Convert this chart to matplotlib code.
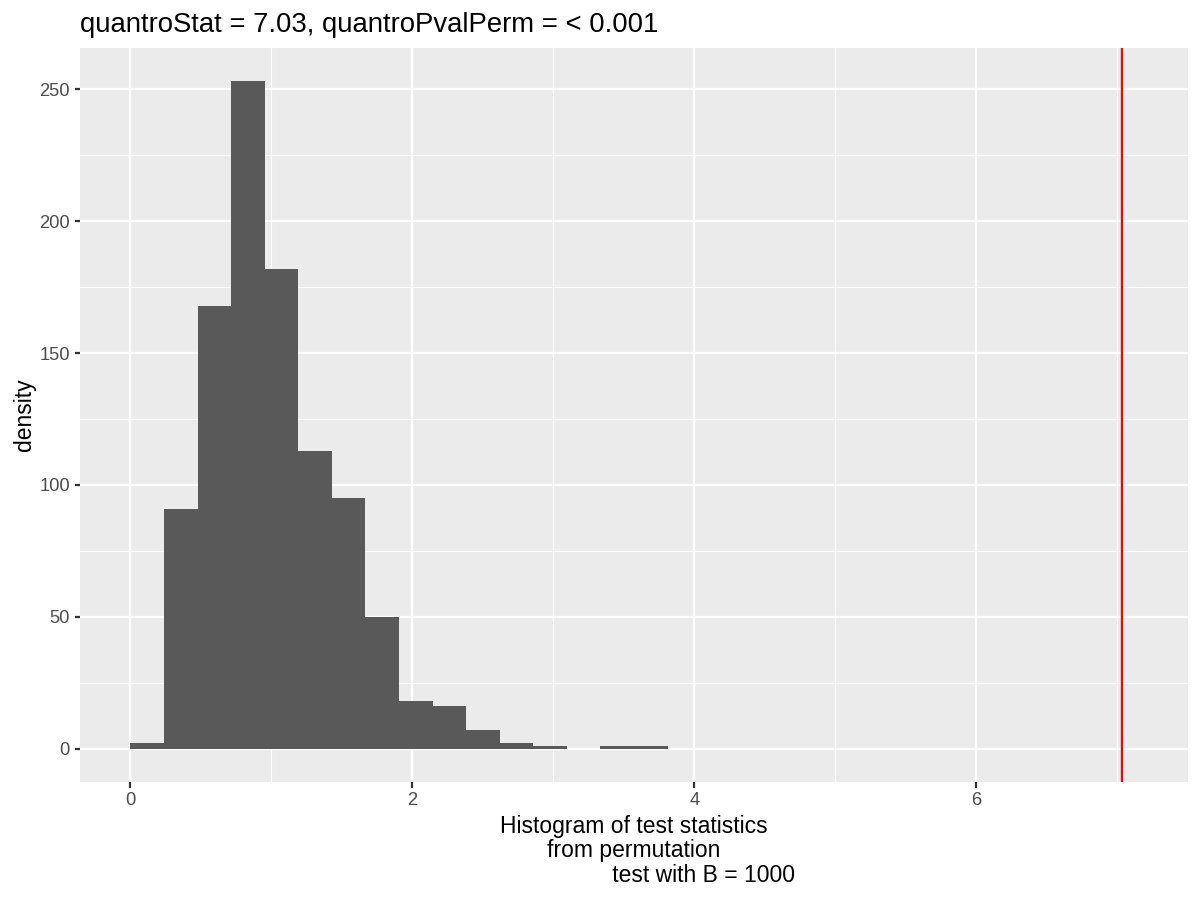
import numpy as np
import matplotlib
matplotlib.use("Agg")
import matplotlib.pyplot as plt
from matplotlib.ticker import MultipleLocator

plt.rcParams['font.family'] = ['Liberation Sans', 'DejaVu Sans']

# histogram of permutation test statistics (counts)
counts = [2, 91, 168, 253, 182, 113, 95, 50, 18, 16, 7, 2, 1, 0, 1, 1]
bin_start = 0.003
bin_width = 0.238
n_bins_total = 30  # ggplot kept 30 bins, the rest are empty
quantro_stat = 7.03
title_text = "quantroStat = 7.03, quantroPvalPerm = < 0.001"
xlabel_text = ("Histogram of test statistics\nfrom permutation\n"
               "                      test with B = 1000")

all_counts = np.array(counts + [0] * (n_bins_total - len(counts)), dtype=float)
edges = bin_start + bin_width * np.arange(n_bins_total + 1)

fig = plt.figure(figsize=(8, 6), dpi=150)
W, H = 1200, 900
ax = fig.add_axes([80 / W, 1 - 782 / H, 1108 / W, 734 / H])
ax.set_facecolor('#EBEBEB')
for s in ax.spines.values():
    s.set_visible(False)

ax.bar(edges[:-1], all_counts, width=bin_width, align='edge',
       color='#595959', linewidth=0, zorder=3)
ax.axvline(quantro_stat, color='red', lw=1.07, zorder=4)

# ggplot-like 5% expansion
xmin, xmax = edges[0], edges[-1]
dx = (xmax - xmin) * 0.05
ax.set_xlim(xmin - dx, xmax + dx)
ymax = all_counts.max()
ax.set_ylim(-0.05 * ymax, ymax * 1.05)

ax.xaxis.set_major_locator(MultipleLocator(2))
ax.xaxis.set_minor_locator(MultipleLocator(1))
ax.yaxis.set_major_locator(MultipleLocator(50))
ax.yaxis.set_minor_locator(MultipleLocator(25))
ax.grid(which='major', color='white', lw=1.07, zorder=1)
ax.grid(which='minor', color='white', lw=0.53, zorder=1)
ax.set_axisbelow(True)
ax.tick_params(which='major', length=5.5 * 72 / 150, width=1.07, color='#333333',
               labelcolor='#4D4D4D', labelsize=8.8, pad=2.2)
ax.tick_params(which='minor', length=0)

ax.set_ylabel("density", fontsize=11, labelpad=1.5)
fig.text(634 / W, 1 - 815 / H, xlabel_text, fontsize=11, ha='center', va='top',
         multialignment='center', linespacing=1.08)
fig.text(80 / W, 1 - 32 / H, title_text, fontsize=13.2, ha='left', va='baseline')

fig.savefig("out.png", dpi=150)
